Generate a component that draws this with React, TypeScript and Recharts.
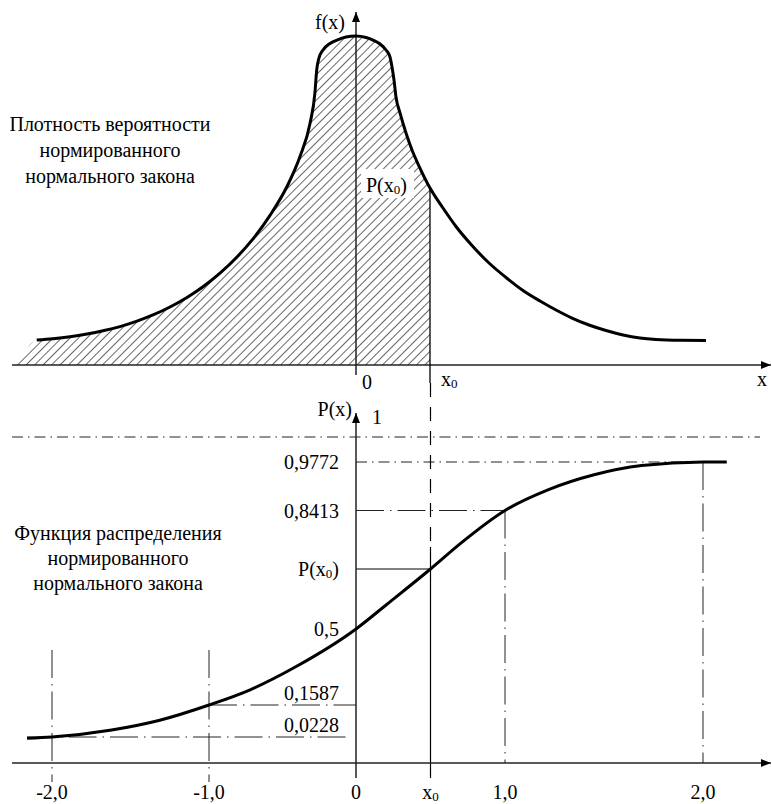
import React from 'react';
import { ComposedChart, Line, Area, XAxis, YAxis, ReferenceLine, ReferenceDot } from 'recharts';

// ---------------- data ----------------
const X0 = 0.5;
const P_X0 = 0.6915;

// density curve f(x) (hand-drawn bell)
const densityX = [-2.1574, -2.0473, -1.9324, -1.8176, -1.7095, -1.5946, -1.4797, -1.3716, -1.2568, -1.1419, -1.0338, -0.9189, -0.8041, -0.6959, -0.5811, -0.4662, -0.3784, -0.3108, -0.277, -0.2655, -0.25, -0.223, -0.1757, -0.1284, -0.0676, 0, 0.0676, 0.1149, 0.1622, 0.2027, 0.2297, 0.2432, 0.2568, 0.2703, 0.2973, 0.3378, 0.3784, 0.4257, 0.5, 0.5878, 0.6757, 0.7838, 0.8986, 1.0135, 1.1284, 1.2432, 1.3514, 1.4595, 1.5743, 1.6892, 1.8041, 1.9189, 2.027, 2.1959, 2.3649];
const densityF = [0.0304, 0.032, 0.0344, 0.0377, 0.0416, 0.0467, 0.0533, 0.0608, 0.0705, 0.0821, 0.0951, 0.1116, 0.1313, 0.1533, 0.1819, 0.217, 0.2534, 0.2935, 0.3319, 0.3587, 0.3733, 0.383, 0.3909, 0.3951, 0.3988, 0.4, 0.3982, 0.3951, 0.3903, 0.383, 0.3745, 0.3623, 0.3465, 0.3258, 0.3064, 0.2821, 0.2614, 0.2419, 0.2152, 0.1909, 0.1684, 0.1453, 0.124, 0.1064, 0.0906, 0.0778, 0.0669, 0.0571, 0.0486, 0.0419, 0.0365, 0.0328, 0.031, 0.03, 0.0298];
const HATCH_START_X = -2.29;

// distribution function P(x)
const cdfX = [-2.159, -2, -1.62, -1.32, -1, -0.72, -0.41, 0, 0.21, 0.5, 0.7, 1, 1.22, 1.45, 1.69, 2, 2.12];
const cdfP = [0.0217, 0.0228, 0.0525, 0.0929, 0.1587, 0.227, 0.3302, 0.5, 0.5798, 0.6915, 0.7565, 0.8413, 0.8997, 0.9413, 0.9671, 0.9772, 0.9772];

const bottomTicks = [-2, -1, 0, X0, 1, 2];
const bottomTickLabels = ['-2,0', '-1,0', '0', 'x0', '1,0', '2,0'];

const levelValues = [0.0228, 0.1587, 0.5, P_X0, 0.8413, 0.9772];
const levelLabels = ['0,0228', '0,1587', '0,5', 'P(x0)', '0,8413', '0,9772'];

const captionTop = ['Плотность вероятности', 'нормированного', 'нормального закона'];
const captionBottom = ['Функция распределения', 'нормированного', 'нормального закона'];

// ---------------- scales (the drawing is a sketch: piecewise linear axes) ----------------
const PLOT_L = 12, PLOT_R = 771, PLOT_T = 0, PLOT_B = 763;

const BX_KNOTS = [-2, -1, 0, 1, 2];
const BX_PX = [52, 209, 356, 505, 703];
const BY_KNOTS = [0, 0.0228, 0.1587, 0.5, P_X0, 0.8413, 0.9772, 1];
const BY_PX = [763, 737, 705, 629, 569, 510.5, 462, 437];
const TX_KNOTS = [0, X0];
const TX_PX = [356, 430];
const TY_KNOTS = [0, 0.4];
const TY_PX = [365, 36];

function makeScale(knots: number[], px: number[], r0: number, r1: number): any {
  const fr = px.map((p) => (p - r0) / (r1 - r0));
  const build = (dom: number[], rng: number[]): any => {
    let d = dom.slice();
    let r = rng.slice();
    const s: any = (v: number) => {
      const n = knots.length;
      let i = 0;
      while (i < n - 2 && v > knots[i + 1]) i++;
      const t = (v - knots[i]) / (knots[i + 1] - knots[i]);
      const f = fr[i] + t * (fr[i + 1] - fr[i]);
      return r[0] + f * (r[r.length - 1] - r[0]);
    };
    s.domain = (x?: any) => {
      if (x === undefined) return d.slice();
      d = Array.from(x as number[]);
      return s;
    };
    s.range = (x?: any) => {
      if (x === undefined) return r.slice();
      r = Array.from(x as number[]);
      return s;
    };
    s.copy = () => build(d, r);
    s.ticks = () => knots.slice();
    s.tickFormat = () => (v: number) => String(v);
    s.nice = () => s;
    s.clamp = () => s;
    s.invert = (p: number) => {
      const f = (p - r[0]) / (r[r.length - 1] - r[0]);
      const n = knots.length;
      let i = 0;
      while (i < n - 2 && f > fr[i + 1]) i++;
      return knots[i] + ((f - fr[i]) / (fr[i + 1] - fr[i])) * (knots[i + 1] - knots[i]);
    };
    return s;
  };
  return build([knots[0], knots[knots.length - 1]], [r0, r1]);
}

const bxScale = makeScale(BX_KNOTS, BX_PX, PLOT_L, PLOT_R);
const byScale = makeScale(BY_KNOTS, BY_PX, PLOT_B, PLOT_T);
const txScale = makeScale(TX_KNOTS, TX_PX, PLOT_L, PLOT_R);
const tyScale = makeScale(TY_KNOTS, TY_PX, PLOT_B, PLOT_T);

// axis extents (data units)
const TX_MIN = -2.3243, TX_MAX = 2.8041;
const TY_MIN = -0.4839, TY_MAX = 0.4438;
const BX_MIN = -2.2548, BX_MAX = 2.3434;
const BY_MIN = 0, BY_MAX = 1.3985;

const densityData = densityX.map((x, i) => ({ x, f: densityF[i] }));
const hatchData = [{ x: HATCH_START_X, f: 0 }, ...densityData.filter((d) => d.x <= X0)];
const cdfData = cdfX.map((x, i) => ({ x, p: cdfP[i] }));
const F_X0 = densityF[densityX.indexOf(X0)];

// ---------------- styling ----------------
const FONT = '"Liberation Serif", Tinos, "Times New Roman", serif';
const FS = 20;
const TXT: React.CSSProperties = { fontFamily: FONT, fontSize: FS };
const SHORT_DD = '11 5 1.5 5';
const LONG_DD = '28 6 1.5 6';
const AXIS_C = '#222';

const rich = (s: string) => {
  const i = s.indexOf('x0');
  if (i < 0) return s;
  return [
    <tspan key="a">{s.slice(0, i + 1)}</tspan>,
    <tspan key="b" style={{ fontSize: 13 }} dy={4}>0</tspan>,
    <tspan key="c" dy={-4}>{s.slice(i + 2)}</tspan>,
  ];
};

const textDot = (key: string, xa: string, ya: string, x: number, y: number, dx: number, dy: number, label: string, anchor: string = 'start') => (
  <ReferenceDot
    key={key}
    xAxisId={xa}
    yAxisId={ya}
    x={x}
    y={y}
    r={0}
    ifOverflow="visible"
    shape={(p: any) => (
      <text x={p.cx + dx} y={p.cy + dy} textAnchor={anchor as any} dominantBaseline="central" style={TXT} fill="#000">
        {rich(label)}
      </text>
    )}
  />
);

const arrowLine = (p: any) => (
  <line x1={p.x1} y1={p.y1} x2={p.x2} y2={p.y2} stroke={AXIS_C} strokeWidth={1.5} markerEnd="url(#arrowHead)" />
);

const BottomTick = (p: any) => {
  const v = p.payload ? p.payload.value : undefined;
  const i = bottomTicks.indexOf(v);
  return (
    <text x={p.x} y={p.y + 29} textAnchor="middle" dominantBaseline="central" style={TXT} fill="#000">
      {rich(i >= 0 ? bottomTickLabels[i] : '')}
    </text>
  );
};

export default function App() {
  return (
    <div style={{ position: 'absolute', left: 0, top: 0, width: 772, height: 804, background: '#fff' }}>
      <svg width={0} height={0} style={{ position: 'absolute' }}>
        <defs>
          <pattern id="hatch" patternUnits="userSpaceOnUse" width={6} height={6} patternTransform="rotate(45)">
            <line x1={0} y1={0} x2={0} y2={6} stroke="#000" strokeWidth={1.2} />
          </pattern>
          <marker id="arrowHead" viewBox="0 0 10 8" refX={10} refY={4} markerWidth={10} markerHeight={8} markerUnits="userSpaceOnUse" orient="auto">
            <path d="M0,0 L10,4 L0,8 z" fill="#000" />
          </marker>
        </defs>
      </svg>
      <ComposedChart width={772} height={804} margin={{ top: PLOT_T, right: 772 - PLOT_R, bottom: 0, left: PLOT_L }}>
        <XAxis xAxisId="tx" dataKey="x" type="number" hide scale={txScale} domain={[TX_MIN, TX_MAX]} allowDataOverflow />
        <YAxis yAxisId="ty" type="number" hide scale={tyScale} domain={[TY_MIN, TY_MAX]} allowDataOverflow />
        <XAxis
          xAxisId="bx"
          dataKey="x"
          type="number"
          scale={bxScale}
          domain={[BX_MIN, BX_MAX]}
          allowDataOverflow
          height={804 - PLOT_B}
          axisLine={false}
          tickLine={false}
          tickSize={0}
          tickMargin={0}
          ticks={bottomTicks}
          interval={0}
          tick={<BottomTick />}
        />
        <YAxis yAxisId="by" type="number" hide scale={byScale} domain={[BY_MIN, BY_MAX]} allowDataOverflow />

        {/* ---------- top: density ---------- */}
        <Area xAxisId="tx" yAxisId="ty" data={hatchData} dataKey="f" type="monotone" baseValue={0} fill="url(#hatch)" fillOpacity={1} stroke="none" isAnimationActive={false} />
        <ReferenceDot
          xAxisId="tx"
          yAxisId="ty"
          x={X0}
          y={F_X0}
          r={0}
          ifOverflow="visible"
          shape={(p: any) => (
            <g>
              <rect x={p.cx - 69} y={p.cy - 19} width={53} height={29} fill="#fff" />
              <text x={p.cx - 64} y={p.cy - 3} dominantBaseline="central" style={TXT} fill="#000">
                {rich('P(x0)')}
              </text>
            </g>
          )}
        />
        <ReferenceLine xAxisId="tx" yAxisId="ty" ifOverflow="visible" segment={[{ x: TX_MIN, y: 0 }, { x: TX_MAX, y: 0 }]} shape={arrowLine} />
        <ReferenceLine xAxisId="tx" yAxisId="ty" ifOverflow="visible" segment={[{ x: 0, y: -0.0122 }, { x: 0, y: 0.4292 }]} shape={arrowLine} />
        <ReferenceLine xAxisId="tx" yAxisId="ty" ifOverflow="visible" segment={[{ x: X0, y: -0.0219 }, { x: X0, y: F_X0 }]} stroke="#000" strokeWidth={1.3} />
        <Line xAxisId="tx" yAxisId="ty" data={densityData} dataKey="f" type="monotone" stroke="#000" strokeWidth={3} dot={false} isAnimationActive={false} />
        {textDot('fx', 'tx', 'ty', 0, 0.4292, -11, 10, 'f(x)', 'end')}
        {textDot('t0', 'tx', 'ty', 0, 0, 6, 17, '0', 'start')}
        {textDot('tx0', 'tx', 'ty', X0, 0, 11, 14, 'x0', 'start')}
        {textDot('tX', 'tx', 'ty', TX_MAX, 0, -14, 14, 'x', 'start')}

        {/* ---------- bottom: distribution function ---------- */}
        <ReferenceLine xAxisId="bx" yAxisId="by" ifOverflow="visible" segment={[{ x: BX_MIN, y: 1 }, { x: 2.2879, y: 1 }]} stroke="#222" strokeWidth={1} strokeDasharray={SHORT_DD} />
        <ReferenceLine xAxisId="bx" yAxisId="by" ifOverflow="visible" segment={[{ x: 0, y: 0.9772 }, { x: 2, y: 0.9772 }]} stroke="#222" strokeWidth={1} strokeDasharray={SHORT_DD} />
        <ReferenceLine xAxisId="bx" yAxisId="by" ifOverflow="visible" segment={[{ x: 2, y: 0.9772 }, { x: 2, y: 0 }]} stroke="#222" strokeWidth={1} strokeDasharray={LONG_DD} />
        <ReferenceLine xAxisId="bx" yAxisId="by" ifOverflow="visible" segment={[{ x: 0, y: 0.8413 }, { x: 1, y: 0.8413 }]} stroke="#222" strokeWidth={1} strokeDasharray={LONG_DD} />
        <ReferenceLine xAxisId="bx" yAxisId="by" ifOverflow="visible" segment={[{ x: 1, y: 0.8413 }, { x: 1, y: 0 }]} stroke="#222" strokeWidth={1} strokeDasharray={LONG_DD} />
        <ReferenceLine xAxisId="bx" yAxisId="by" ifOverflow="visible" segment={[{ x: 0, y: P_X0 }, { x: X0, y: P_X0 }]} stroke="#000" strokeWidth={1} />
        <ReferenceLine xAxisId="bx" yAxisId="by" ifOverflow="visible" segment={[{ x: -1, y: 0.1587 }, { x: 0, y: 0.1587 }]} stroke="#222" strokeWidth={1} strokeDasharray={LONG_DD} />
        <ReferenceLine xAxisId="bx" yAxisId="by" ifOverflow="visible" segment={[{ x: -2.159, y: 0.0228 }, { x: -0.0612, y: 0.0228 }]} stroke="#222" strokeWidth={1} strokeDasharray={LONG_DD} />
        <ReferenceLine xAxisId="bx" yAxisId="by" ifOverflow="visible" segment={[{ x: -2, y: 0.4057 }, { x: -2, y: -0.0167 }]} stroke="#222" strokeWidth={1} strokeDasharray={LONG_DD} />
        <ReferenceLine xAxisId="bx" yAxisId="by" ifOverflow="visible" segment={[{ x: -1, y: 0.4057 }, { x: -1, y: -0.0167 }]} stroke="#222" strokeWidth={1} strokeDasharray={LONG_DD} />
        <ReferenceLine xAxisId="bx" yAxisId="by" ifOverflow="visible" segment={[{ x: X0, y: 1.0492 }, { x: X0, y: 0.7478 }]} stroke="#000" strokeWidth={1.2} strokeDasharray="14 10" />
        <ReferenceLine xAxisId="bx" yAxisId="by" ifOverflow="visible" segment={[{ x: X0, y: 0.7478 }, { x: X0, y: -0.0132 }]} stroke="#000" strokeWidth={1.2} />
        <ReferenceLine xAxisId="bx" yAxisId="by" ifOverflow="visible" segment={[{ x: BX_MIN, y: 0 }, { x: BX_MAX, y: 0 }]} shape={arrowLine} />
        <ReferenceLine xAxisId="bx" yAxisId="by" ifOverflow="visible" segment={[{ x: 0, y: -0.0132 }, { x: 0, y: 1.0219 }]} shape={arrowLine} />
        <Line xAxisId="bx" yAxisId="by" data={cdfData} dataKey="p" type="monotone" stroke="#000" strokeWidth={3} dot={false} isAnimationActive={false} />
        {textDot('px', 'bx', 'by', 0, 1.0219, -4, -4, 'P(x)', 'end')}
        {textDot('one', 'bx', 'by', 0, 1, 16, -20, '1', 'start')}
        {levelValues.map((v, i) =>
          textDot('lv' + i, 'bx', 'by', 0, v, -17, v < 0.3 ? -12 : 0, levelLabels[i], 'end')
        )}

        {/* ---------- captions ---------- */}
        {captionTop.map((s, i) => (
          <text key={'ct' + i} x={110} y={131 + i * 26} textAnchor="middle" style={TXT} fill="#000">
            {s}
          </text>
        ))}
        {captionBottom.map((s, i) => (
          <text key={'cb' + i} x={118} y={540 + i * 25} textAnchor="middle" style={TXT} fill="#000">
            {s}
          </text>
        ))}
      </ComposedChart>
    </div>
  );
}
